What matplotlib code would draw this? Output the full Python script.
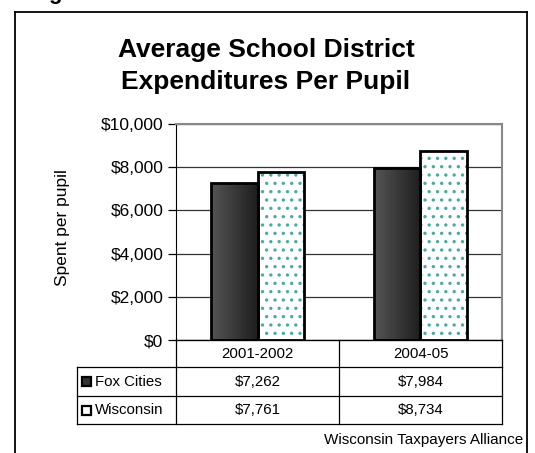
import matplotlib
matplotlib.use("Agg")
import matplotlib.pyplot as plt
import numpy as np
from matplotlib.lines import Line2D
from matplotlib.patches import Rectangle
from matplotlib.colors import LinearSegmentedColormap

plt.rcParams['font.family'] = ['Liberation Sans', 'DejaVu Sans']
plt.rcParams['hatch.linewidth'] = 1.2

years = ['2001-2002', '2004-05']
series = ['Fox Cities', 'Wisconsin']
fox = [7262, 7984]
wis = [7761, 8734]
yticks = [0, 2000, 4000, 6000, 8000, 10000]

W, H = 535, 453
fig = plt.figure(figsize=(W / 100, H / 100), dpi=100)

def fx(px):
    return px / W

def fy(py):
    return 1 - py / H

ax = fig.add_axes([fx(176), fy(340), fx(502) - fx(176), fy(124) - fy(340)])

bw = 0.285
x = np.arange(len(years)) + 0.5
grad = np.linspace(0, 1, 64).reshape(1, -1)
cmap = LinearSegmentedColormap.from_list('g', ['#555555', '#1e1e1e'])

for i in range(len(years)):
    # Fox Cities bar, shaded left to right
    x0 = x[i] - bw
    r = Rectangle((x0, 0), bw, fox[i], facecolor='none', edgecolor='black', lw=2, zorder=4)
    ax.add_patch(r)
    im = ax.imshow(grad, extent=[x0, x0 + bw, 0, fox[i]], aspect='auto', cmap=cmap, zorder=3)
    im.set_clip_path(r)
    # Wisconsin bar, white with teal dots
    ax.bar(x[i], wis[i], bw, align='edge', color='white', edgecolor='#4aaaa4', hatch='..', lw=0, zorder=3)
    ax.bar(x[i], wis[i], bw, align='edge', fill=False, edgecolor='black', lw=2, zorder=4)

ax.set_xlim(0, 2)
ax.set_ylim(0, 10000)
ax.set_yticks(yticks)
ax.set_yticklabels(['${:,}'.format(v) for v in yticks], fontsize=12.5)
ax.yaxis.grid(True, color='#333333', lw=0.9)
ax.set_axisbelow(True)
ax.set_xticks([])
ax.tick_params(axis='y', length=6, width=0.9, pad=3)
for s in ['top', 'right']:
    ax.spines[s].set_color('#888888')
    ax.spines[s].set_linewidth(1.5)
ax.spines['left'].set_color('black')
ax.spines['bottom'].set_color('black')
fig.text(fx(62), fy(228), 'Spent per pupil', rotation=90, ha='center', va='center', fontsize=12.5)

# data table under the plot
rows_y = [340, 367, 396, 424]
cols_x = [77, 176, 339, 502]
lk = dict(color='black', lw=0.9, transform=fig.transFigure)
fig.add_artist(Line2D([fx(176), fx(502)], [fy(340), fy(340)], **lk))
for ry in rows_y[1:]:
    fig.add_artist(Line2D([fx(77), fx(502)], [fy(ry), fy(ry)], **lk))
fig.add_artist(Line2D([fx(77), fx(77)], [fy(367), fy(424)], **lk))
for cx in cols_x[1:]:
    fig.add_artist(Line2D([fx(cx), fx(cx)], [fy(340), fy(424)], **lk))

tf = 10.8
for j, yr in enumerate(years):
    cx = (cols_x[j + 1] + cols_x[j + 2]) / 2
    fig.text(fx(cx), fy((rows_y[0] + rows_y[1]) / 2), yr, ha='center', va='center', fontsize=tf)
    fig.text(fx(cx), fy((rows_y[1] + rows_y[2]) / 2), '${:,}'.format(fox[j]), ha='center', va='center', fontsize=tf)
    fig.text(fx(cx), fy((rows_y[2] + rows_y[3]) / 2), '${:,}'.format(wis[j]), ha='center', va='center', fontsize=tf)

for k, name in enumerate(series):
    cy = (rows_y[k + 1] + rows_y[k + 2]) / 2
    fc = '#333333' if k == 0 else 'white'
    fig.add_artist(Rectangle((fx(82), fy(cy + 4.5)), fx(9), fy(0) - fy(9), facecolor=fc,
                             edgecolor='black', lw=1.6, transform=fig.transFigure))
    fig.text(fx(95), fy(cy), name, ha='left', va='center', fontsize=tf)

fig.text(fx(266), fy(57), 'Average School District', ha='center', va='baseline', fontsize=19, fontweight='bold')
fig.text(fx(266), fy(89), 'Expenditures Per Pupil', ha='center', va='baseline', fontsize=19, fontweight='bold')
fig.text(fx(523), fy(440), 'Wisconsin Taxpayers Alliance', ha='right', va='center', fontsize=11)

# outer frame
bk = dict(color='black', lw=1.3, transform=fig.transFigure)
fig.add_artist(Line2D([fx(15), fx(15)], [fy(12), fy(460)], **bk))
fig.add_artist(Line2D([fx(15), fx(527)], [fy(12), fy(12)], **bk))
fig.add_artist(Line2D([fx(527), fx(527)], [fy(12), fy(460)], **bk))
fig.text(fx(48), fy(-1), 'g', ha='left', va='baseline', fontsize=16, fontweight='bold')

fig.savefig('out.png', dpi=100)
